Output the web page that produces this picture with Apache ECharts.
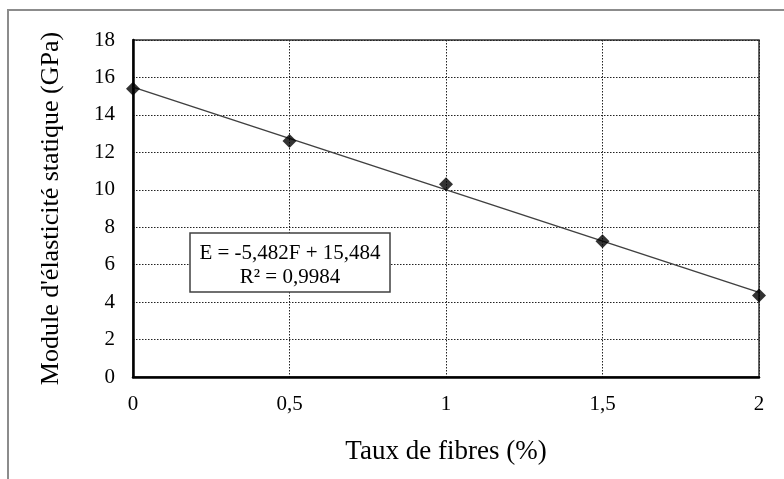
<!DOCTYPE html>
<html><head><meta charset="utf-8">
<script src="https://cdn.jsdelivr.net/npm/echarts@6/dist/echarts.min.js"></script>
<style>html,body{margin:0;padding:0;background:#fff}#c{width:784px;height:479px}</style>
</head><body><div id="c"></div>
<script>
const fibreRates = [0, 0.5, 1, 1.5, 2];
const modulus = [15.4, 12.6, 10.3, 7.25, 4.35];
const trendX = [0, 2];
const trendY = [15.484, 4.52];
const xTickLabels = {'0':'0','0.5':'0,5','1':'1','1.5':'1,5','2':'2'};
const yTicks = [0,2,4,6,8,10,12,14,16,18];
const equationText = 'E = -5,482F + 15,484';
const r2Text = 'R² = 0,9984';
const xTitle = 'Taux de fibres (%)';
const yTitle = "Module d'élasticité statique (GPa)";

const FONT = '"Liberation Serif","Times New Roman",serif';
const chart = echarts.init(document.getElementById('c'), null, {renderer:'canvas'});
chart.setOption({
  animation:false,
  backgroundColor:'#fff',
  grid:{left:133,top:40,right:25,bottom:102,show:true,borderColor:'#333',borderWidth:1.5,backgroundColor:'transparent'},
  xAxis:{type:'value',min:0,max:2,interval:0.5,
    axisLine:{show:true,onZero:false,lineStyle:{color:'#000',width:2.5}},
    axisTick:{show:false},
    axisLabel:{fontFamily:FONT,fontSize:21,color:'#000',margin:17,formatter:v=>xTickLabels[String(v)]},
    splitLine:{show:true,lineStyle:{color:'#222',width:1,type:[1.5,1.5]}},
    name:xTitle,nameLocation:'middle',nameGap:61,
    nameTextStyle:{fontFamily:FONT,fontSize:27,color:'#000'}},
  yAxis:{type:'value',min:yTicks[0],max:yTicks[yTicks.length-1],interval:2,
    axisLine:{show:true,onZero:false,lineStyle:{color:'#000',width:2.5}},
    axisTick:{show:false},
    axisLabel:{fontFamily:FONT,fontSize:21,color:'#000',margin:18},
    splitLine:{show:true,lineStyle:{color:'#222',width:1,type:[1.5,1.5]}},
    name:yTitle,nameLocation:'middle',nameGap:69,
    nameTextStyle:{fontFamily:FONT,fontSize:26,color:'#000'}},
  series:[
    {type:'line',data:trendX.map((x,i)=>[x,trendY[i]]),symbol:'none',
     lineStyle:{color:'#404040',width:1.5},z:2,silent:true},
    {type:'scatter',data:fibreRates.map((x,i)=>[x,modulus[i]]),symbol:'diamond',symbolSize:14,
     itemStyle:{color:'#000'},z:3}
  ],
  graphic:[
    {type:'rect',shape:{x:8,y:10,width:900,height:600},style:{fill:'none',stroke:'#8c8c8c',lineWidth:2},z:0,silent:true},
    {type:'rect',shape:{x:190,y:233,width:200,height:59},style:{fill:'#fff',stroke:'#404040',lineWidth:1.5},z:10},
    {type:'text',x:290,y:253,style:{text:equationText,fontFamily:FONT,fontSize:21,fill:'#000',align:'center',verticalAlign:'middle'},z:11},
    {type:'text',x:290,y:277,style:{text:r2Text,fontFamily:FONT,fontSize:21,fill:'#000',align:'center',verticalAlign:'middle'},z:11}
  ]
});
</script></body></html>
